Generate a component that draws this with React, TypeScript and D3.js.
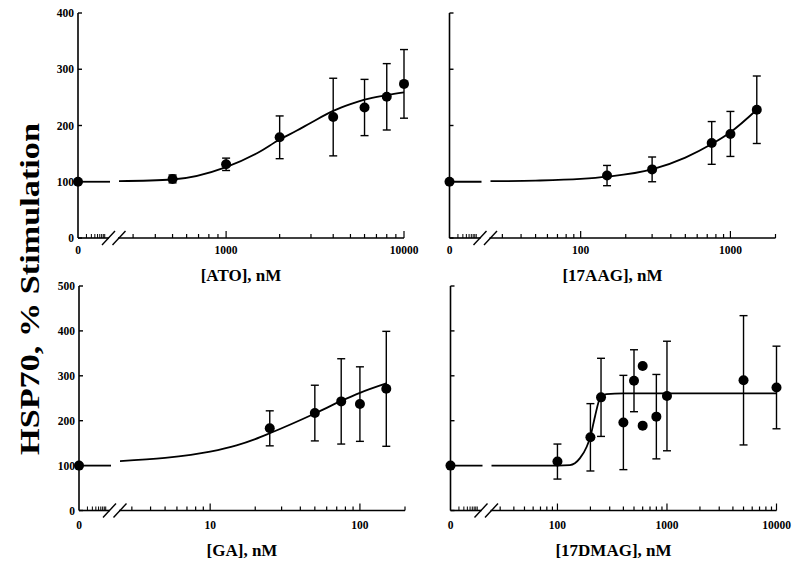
import React from "react";
import * as d3 from "d3";

// ATO panel
const atoDose = [500, 1000, 2000, 4000, 6000, 8000, 10000];
const atoMean = [105, 131, 179, 215, 232, 251, 274];
const atoErr = [7, 11, 38, 69, 50, 59, 61];
const atoFitDose = [250, 500, 1000, 1500, 2000, 2500, 3000, 4000, 5000, 6000, 8000, 10000];
const atoFit = [101, 104, 126, 151, 175, 191, 205, 226, 238, 246, 254, 259];

// 17AAG panel
const aagDose = [150, 300, 750, 1000, 1500];
const aagMean = [111, 122, 169, 185, 228];
const aagErr = [18, 22, 38, 40, 60];
const aagFitDose = [25, 50, 100, 150, 300, 500, 750, 1000, 1500];
const aagFit = [101, 102, 105, 109, 122, 143, 167, 188, 228];

// GA panel
const gaDose = [25, 50, 75, 100, 150];
const gaMean = [183, 217, 243, 237, 271];
const gaErr = [39, 62, 95, 83, 128];
const gaFitDose = [2.5, 5, 10, 15, 20, 25, 50, 75, 100, 150];
const gaFit = [110, 117, 131, 145, 159, 172, 216, 244, 262, 283];

// 17DMAG panel
const dmagDose = [100, 200, 250, 400, 500, 600, 600, 800, 1000, 5000, 10000];
const dmagMean = [109, 163, 252, 196, 289, 322, 189, 209, 255, 290, 274];
const dmagErr = [39, 75, 87, 105, 69, 0, 0, 94, 122, 144, 92];
const dmagFitDose = [25, 100, 130, 160, 185, 200, 220, 245, 280, 400, 10000];
const dmagFit = [100, 100, 101, 116, 142, 165, 209, 250, 259, 261, 261];

const topYTicks = [0, 100, 200, 300, 400];
const bottomYTicks = [0, 100, 200, 300, 400, 500];
const controlValue = 100;

type Panel = {
  x0: number;
  y: d3.ScaleLinear<number, number>;
  yTicks: number[];
  showYLabels: boolean;
  lo: number;
  hi: number;
  xLabels: number[];
  title: string;
  titleY: number;
  labelOffset: number;
  dose: number[];
  mean: number[];
  err: number[];
  fitDose: number[];
  fit: number[];
};

const topY = d3.scaleLinear().domain([0, 400]).range([238, 13]);
const bottomY = d3.scaleLinear().domain([0, 500]).range([510.5, 286]);

const panels: Panel[] = [
  { x0: 78, y: topY, yTicks: topYTicks, showYLabels: true, lo: 250, hi: 10000, xLabels: [1000, 10000], title: "[ATO], nM", titleY: 281, labelOffset: 12, dose: atoDose, mean: atoMean, err: atoErr, fitDose: atoFitDose, fit: atoFit },
  { x0: 449.5, y: topY, yTicks: topYTicks, showYLabels: false, lo: 25, hi: 2000, xLabels: [100, 1000], title: "[17AAG], nM", titleY: 281, labelOffset: 12, dose: aagDose, mean: aagMean, err: aagErr, fitDose: aagFitDose, fit: aagFit },
  { x0: 79, y: bottomY, yTicks: bottomYTicks, showYLabels: true, lo: 2.5, hi: 200, xLabels: [10, 100], title: "[GA], nM", titleY: 556, labelOffset: 14, dose: gaDose, mean: gaMean, err: gaErr, fitDose: gaFitDose, fit: gaFit },
  { x0: 450.5, y: bottomY, yTicks: bottomYTicks, showYLabels: false, lo: 25, hi: 10000, xLabels: [100, 1000, 10000], title: "[17DMAG], nM", titleY: 556, labelOffset: 14, dose: dmagDose, mean: dmagMean, err: dmagErr, fitDose: dmagFitDose, fit: dmagFit },
];

const font = "'Liberation Serif', 'Times New Roman', serif";

function logTicks(lo: number, hi: number) {
  const out: { v: number; major: boolean }[] = [];
  for (let e = Math.floor(Math.log10(lo)); e <= Math.ceil(Math.log10(hi)); e++) {
    for (let k = 1; k <= 9; k++) {
      const v = k * Math.pow(10, e);
      if (v >= lo * 1.0001 && v <= hi * 1.0001) out.push({ v, major: k === 1 });
    }
  }
  return out;
}

const PanelView = ({ p }: { p: Panel }) => {
  const x = d3.scaleLog().domain([p.lo, p.hi]).range([p.x0 + 41, p.x0 + 326]);
  const mini = d3.scaleLog().domain([1, 10]).range([p.x0, p.x0 + 28]);
  const y0 = p.y(0);
  const yTop = p.y.domain()[1];
  const line = d3
    .line<number>()
    .x((_, i) => x(p.fitDose[i]))
    .y((d) => p.y(d))
    .curve(d3.curveMonotoneX);
  const ticks = logTicks(p.lo, p.hi);
  const xEnd = p.x0 + 326;
  return (
    <g stroke="#000" fill="none">
      {/* y axis */}
      <line x1={p.x0} x2={p.x0} y1={y0} y2={p.y(yTop)} strokeWidth={1.6} />
      {p.yTicks.map((t) => (
        <line key={"yt" + t} x1={p.x0} x2={p.x0 + 4} y1={p.y(t)} y2={p.y(t)} strokeWidth={1.4} />
      ))}
      {p.showYLabels &&
        p.yTicks.map((t) => (
          <text key={"yl" + t} x={p.x0 - 4} y={p.y(t)} dy="0.35em" textAnchor="end" stroke="none" fill="#000" fontFamily={font} fontWeight="bold" fontSize={11.5}>
            {t}
          </text>
        ))}
      {/* x axis with break */}
      <line x1={p.x0} x2={p.x0 + 31} y1={y0} y2={y0} strokeWidth={1.6} />
      <line x1={p.x0 + 40} x2={xEnd} y1={y0} y2={y0} strokeWidth={1.6} />
      {[30.5, 41].map((dx) => (
        <line key={"br" + dx} x1={p.x0 + dx - 6.5} x2={p.x0 + dx + 6.5} y1={y0 + 7} y2={y0 - 7} strokeWidth={1.4} />
      ))}
      {d3.range(2, 10).map((k) => (
        <line key={"mt" + k} x1={mini(k)} x2={mini(k)} y1={y0} y2={y0 - 4} strokeWidth={1} />
      ))}
      {ticks.map((t) => (
        <line key={"xt" + t.v} x1={x(t.v)} x2={x(t.v)} y1={y0} y2={y0 - (t.major ? 7 : 4)} strokeWidth={1.2} />
      ))}
      <text x={p.x0} y={y0 + p.labelOffset} dy="0.35em" textAnchor="middle" stroke="none" fill="#000" fontFamily={font} fontWeight="bold" fontSize={11.5}>
        0
      </text>
      {p.xLabels.map((v) => (
        <text key={"xl" + v} x={x(v)} y={y0 + p.labelOffset} dy="0.35em" textAnchor="middle" stroke="none" fill="#000" fontFamily={font} fontWeight="bold" fontSize={11.5}>
          {v}
        </text>
      ))}
      <text x={p.x0 + 163} y={p.titleY} textAnchor="middle" stroke="none" fill="#000" fontFamily={font} fontWeight="bold" fontSize={17}>
        {p.title}
      </text>
      {/* control segment and fit */}
      <line x1={p.x0} x2={p.x0 + 32} y1={p.y(controlValue)} y2={p.y(controlValue)} strokeWidth={1.8} />
      <path d={line(p.fit) || ""} strokeWidth={1.8} />
      {/* error bars */}
      {p.dose.map((d, i) =>
        p.err[i] > 0 ? (
          <g key={"e" + i} strokeWidth={1.4}>
            <line x1={x(d)} x2={x(d)} y1={p.y(p.mean[i] - p.err[i])} y2={p.y(p.mean[i] + p.err[i])} />
            <line x1={x(d) - 4} x2={x(d) + 4} y1={p.y(p.mean[i] - p.err[i])} y2={p.y(p.mean[i] - p.err[i])} />
            <line x1={x(d) - 4} x2={x(d) + 4} y1={p.y(p.mean[i] + p.err[i])} y2={p.y(p.mean[i] + p.err[i])} />
          </g>
        ) : null
      )}
      <circle cx={p.x0} cy={p.y(controlValue)} r={5} fill="#000" stroke="none" />
      {p.dose.map((d, i) => (
        <circle key={"c" + i} cx={x(d)} cy={p.y(p.mean[i])} r={5} fill="#000" stroke="none" />
      ))}
    </g>
  );
};

export default function App() {
  return (
    <svg width={800} height={564} style={{ position: "absolute", left: 0, top: 0, background: "#fff" }}>
      <rect width={800} height={564} fill="#fff" />
      {panels.map((p) => (
        <PanelView key={p.title} p={p} />
      ))}
      <text
        transform="translate(39,289) rotate(-90)"
        textAnchor="middle"
        fontFamily={font}
        fontWeight="bold"
        fontSize={28}
        textLength={332}
        lengthAdjust="spacingAndGlyphs"
      >
        HSP70, % Stimulation
      </text>
    </svg>
  );
}
